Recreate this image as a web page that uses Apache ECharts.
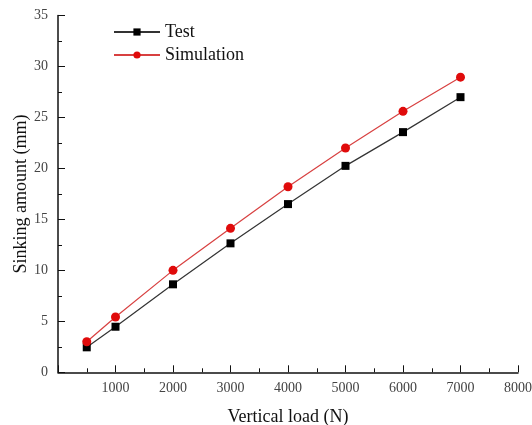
<!DOCTYPE html>
<html><head><meta charset="utf-8">
<script src="https://cdn.jsdelivr.net/npm/echarts@6/dist/echarts.min.js"></script>
<style>html,body{margin:0;padding:0;background:#fff}#c{width:532px;height:425px}</style>
</head><body><div id="c"></div>
<script>
const loads = [500, 1000, 2000, 3000, 4000, 5000, 6000, 7000];
const testVals = [2.45, 4.47, 8.63, 12.65, 16.5, 20.25, 23.56, 26.99];
const simVals = [3.0, 5.42, 10.0, 14.12, 18.2, 22.0, 25.6, 28.95];
const seriesNames = ['Test', 'Simulation'];
const xName = 'Vertical load (N)';
const yName = 'Sinking amount (mm)';

const font = '"Liberation Serif", "Times New Roman", serif';
const chart = echarts.init(document.getElementById('c'));
chart.setOption({
  backgroundColor: '#fff',
  animation: false,
  textStyle: { fontFamily: font },
  grid: { left: 58, right: 14, top: 15.5, bottom: 52.7, containLabel: false, outerBoundsMode: 'none' },
  legend: {
    orient: 'vertical', left: 108, top: 18, itemGap: 5,
    itemWidth: 46, itemHeight: 9,
    textStyle: { fontFamily: font, fontSize: 18, color: '#111' },
    data: seriesNames
  },
  xAxis: {
    type: 'value', min: 0, max: 8000, interval: 1000,
    name: xName, nameLocation: 'middle', nameGap: 36, nameMoveOverlap: false,
    nameTextStyle: { fontFamily: font, fontSize: 18, color: '#111' },
    axisLine: { lineStyle: { color: '#111', width: 1.5 } },
    axisTick: { inside: true, length: 7, lineStyle: { color: '#111', width: 1 } },
    minorTick: { show: true, splitNumber: 2, length: 4, lineStyle: { color: '#111' } },
    splitLine: { show: false },
    axisLabel: { fontFamily: font, fontSize: 14, color: '#444', margin: 9,
      formatter: v => v === 0 ? '' : String(v) }
  },
  yAxis: {
    type: 'value', min: 0, max: 35, interval: 5,
    name: yName, nameLocation: 'middle', nameGap: 28, nameMoveOverlap: false,
    nameTextStyle: { fontFamily: font, fontSize: 18, color: '#111' },
    axisLine: { show: true, lineStyle: { color: '#111', width: 1.5 } },
    axisTick: { show: true, inside: true, length: 7, lineStyle: { color: '#111', width: 1 } },
    minorTick: { show: true, splitNumber: 2, length: 4, lineStyle: { color: '#111' } },
    splitLine: { show: false },
    axisLabel: { fontFamily: font, fontSize: 14, color: '#444', margin: 10 }
  },
  series: [
    {
      name: seriesNames[0], type: 'line',
      data: loads.map((x, i) => [x, testVals[i]]),
      symbol: 'rect', symbolSize: 8,
      itemStyle: { color: '#000' },
      lineStyle: { color: '#333', width: 1.2 }
    },
    {
      name: seriesNames[1], type: 'line',
      data: loads.map((x, i) => [x, simVals[i]]),
      symbol: 'circle', symbolSize: 9,
      itemStyle: { color: '#e00b0b' },
      lineStyle: { color: '#d84040', width: 1.2 }
    }
  ]
});
</script></body></html>
